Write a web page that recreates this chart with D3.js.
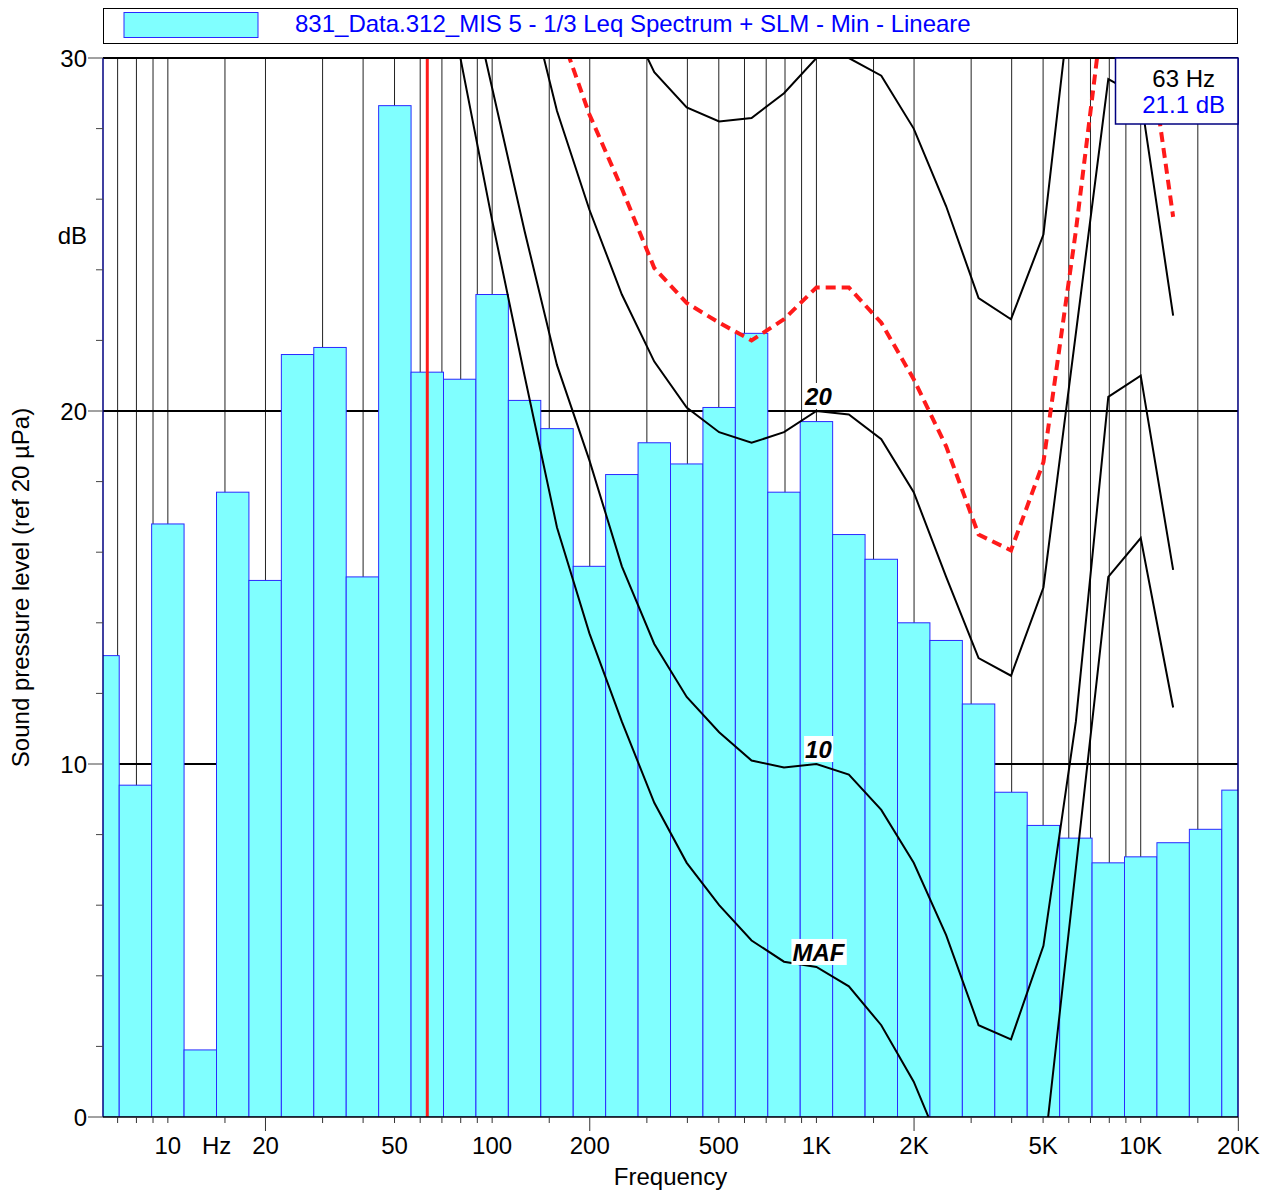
<!DOCTYPE html>
<html><head><meta charset="utf-8">
<script src="https://cdn.jsdelivr.net/npm/d3@7/dist/d3.min.js"></script>
<style>
body{margin:0;background:#fff}
svg{display:block}
text{font-family:"Liberation Sans",Arial,Helvetica,sans-serif}
</style>
</head><body>
<svg id="chart" width="1272" height="1193"></svg>
<script>
// ---------- DATA ----------
const legendLabel = "831_Data.312_MIS 5 - 1/3 Leq Spectrum + SLM - Min - Lineare";
const bandFreqs = [6.3, 8, 10, 12.5, 16, 20, 25, 31.5, 40, 50, 63, 80, 100, 125, 160, 200, 250, 315, 400, 500,
  630, 800, 1000, 1250, 1600, 2000, 2500, 3150, 4000, 5000, 6300, 8000, 10000, 12500, 16000, 20000];
const spectrumDb = [13.07, 9.4, 16.8, 1.9, 17.7, 15.2, 21.6, 21.8, 15.3, 28.65, 21.1, 20.9, 23.3, 20.3, 19.5, 15.6,
  18.2, 19.1, 18.5, 20.1, 22.2, 17.7, 19.7, 16.5, 15.8, 14.0, 13.5, 11.7, 9.2, 8.26, 7.9, 7.2, 7.37, 7.77, 8.15, 9.26];

const curveFreqs = [63, 80, 100, 125, 160, 200, 250, 315, 400, 500, 630, 800, 1000, 1250, 1600, 2000, 2500,
  3150, 4000, 5000, 6300, 8000, 10000, 12500];
const mafDb    = [null, 30.1, 25.4, 21.0, 16.7, 13.7, 11.2, 8.9, 7.2, 6.0, 5.0, 4.4, 4.25, 3.7, 2.6, 1.0, -1.2,
  -3.0, -3.0, -1.2, 7.05, 15.3, 16.4, 11.6];
const phon10Db = [null, 33.2, 29.15, 25.1, 21.3, 18.6, 15.6, 13.4, 11.9, 10.9, 10.1, 9.9, 10.0, 9.7, 8.7, 7.2, 5.15,
  2.6, 2.2, 4.85, 11.2, 20.4, 21.0, 15.5];
const phon20Db = [null, null, null, 32.2, 28.5, 25.7, 23.3, 21.4, 20.1, 19.4, 19.1, 19.4, 20.0, 19.9, 19.2, 17.7, 15.3,
  13.0, 12.5, 15.0, 22.2, 29.4, 28.9, 22.7];
const phon30Db = [null, null, null, null, null, null, 31.5, 29.6, 28.6, 28.2, 28.3, 29.0, 30.0, 30.0, 29.5, 28.0, 25.8,
  23.2, 22.6, 25.0, 33.0, null, null, null];
const redCurveDb = [null, null, null, null, 31.0, 28.4, 26.3, 24.05, 23.06, 22.5, 22.0, 22.6, 23.5, 23.5, 22.5, 20.9, 19.0,
  16.5, 16.05, 18.55, 25.1, 32.6, 32.0, 25.5];
const curveLabels = ["MAF", "10", "20"];
const curveLabelFreq = 1000;

const xTickValues = [10, Math.SQRT2 * 10, 20, 50, 100, 200, 500, 1000, 2000, 5000, 10000, 20000];
const xTickLabels = ["10", "Hz", "20", "50", "100", "200", "500", "1K", "2K", "5K", "10K", "20K"];
const gridMultipliers = [1, 1.5, 2, 3, 4, 5, 6, 7, 8, 9];
const gridDecades = [1, 10, 100, 1000, 10000];
const yTickValues = [0, 10, 20, 30];
const yTickLabels = ["0", "10", "20", "30"];
const cursorFreq = 63;
const cursorLabelFreq = "63 Hz";
const cursorLabelDb = "21.1 dB";

// ---------- LAYOUT ----------
const L = 103, R = 1238, T = 58, B = 1117;
const svg = d3.select("#chart");
const exact = f => Math.pow(10, Math.round(10 * Math.log10(f)) / 10);
const x = d3.scaleLog().domain([Math.pow(10, 0.8), Math.pow(10, 4.3)]).range([L, R]);
const y = d3.scaleLinear().domain([0, 30]).range([B, T]);
const half = Math.pow(10, 0.05);

svg.append("defs").append("clipPath").attr("id", "plotClip")
  .append("rect").attr("x", L).attr("y", T).attr("width", R - L).attr("height", B - T);

const plot = svg.append("g").attr("clip-path", "url(#plotClip)");

// vertical grid
const gridFreqs = [];
gridDecades.forEach(d => gridMultipliers.forEach(m => {
  const f = d * m;
  if (f >= x.domain()[0] && f <= 20000) gridFreqs.push(f);
}));
plot.selectAll("line.vg").data(gridFreqs).enter().append("line")
  .attr("x1", d => x(d)).attr("x2", d => x(d)).attr("y1", T).attr("y2", B)
  .attr("stroke", "#222").attr("stroke-width", 1);

// horizontal grid
plot.selectAll("line.hg").data([10, 20]).enter().append("line")
  .attr("x1", L).attr("x2", R).attr("y1", d => y(d)).attr("y2", d => y(d))
  .attr("stroke", "#000").attr("stroke-width", 2);

// bars
const bars = bandFreqs.map((f, i) => ({ f: exact(f), v: spectrumDb[i] }));
plot.selectAll("rect.bar").data(bars).enter().append("rect")
  .attr("x", d => x(d.f / half))
  .attr("width", d => x(d.f * half) - x(d.f / half))
  .attr("y", d => y(d.v))
  .attr("height", d => y(0) - y(d.v))
  .attr("fill", "#80ffff").attr("stroke", "#2a2aff").attr("stroke-width", 1);

// cursor
plot.append("line").attr("x1", x(exact(cursorFreq))).attr("x2", x(exact(cursorFreq)))
  .attr("y1", T).attr("y2", B).attr("stroke", "#ff1a1a").attr("stroke-width", 3);

// curves
const line = d3.line().defined(d => d.v !== null).x(d => x(d.f)).y(d => y(d.v));
const mk = arr => curveFreqs.map((f, i) => ({ f: exact(f), v: arr[i] }));
[mafDb, phon10Db, phon20Db, phon30Db].forEach(arr => {
  plot.append("path").datum(mk(arr)).attr("d", line)
    .attr("fill", "none").attr("stroke", "#000").attr("stroke-width", 2).attr("stroke-linejoin", "miter");
});
plot.append("path").datum(mk(redCurveDb)).attr("d", line)
  .attr("fill", "none").attr("stroke", "#ff1a1a").attr("stroke-width", 4).attr("stroke-dasharray", "10,6");

// curve labels
const labelCurves = [mafDb, phon10Db, phon20Db];
const li = curveFreqs.indexOf(curveLabelFreq);
labelCurves.forEach((arr, k) => {
  const cx = x(exact(curveLabelFreq)) + 2, cy = y(arr[li]) - 15;
  const g = svg.append("g");
  const t = g.append("text").attr("x", cx).attr("y", cy).attr("dy", "0.36em")
    .attr("text-anchor", "middle").attr("font-size", 24).attr("font-weight", "bold")
    .attr("font-style", "italic").attr("fill", "#000").text(curveLabels[k]);
  const bb = t.node().getBBox();
  g.insert("rect", "text").attr("x", bb.x - 1).attr("y", cy - 13).attr("width", bb.width + 2)
    .attr("height", 26).attr("fill", "#fff");
});

// frame
svg.append("line").attr("x1", L).attr("x2", R).attr("y1", T).attr("y2", T).attr("stroke", "#000").attr("stroke-width", 2);
svg.append("line").attr("x1", L).attr("x2", L).attr("y1", T).attr("y2", B).attr("stroke", "#000080").attr("stroke-width", 1.5);
svg.append("line").attr("x1", R).attr("x2", R).attr("y1", T).attr("y2", B).attr("stroke", "#000080").attr("stroke-width", 1.5);
svg.append("line").attr("x1", L).attr("x2", R).attr("y1", B).attr("y2", B).attr("stroke", "#000").attr("stroke-width", 1.5);

// x ticks
svg.selectAll("line.xt").data(gridFreqs).enter().append("line")
  .attr("x1", d => x(d)).attr("x2", d => x(d)).attr("y1", B)
  .attr("y2", d => B + ([20, 200, 2000, 20000].includes(d) ? 14 : 6))
  .attr("stroke", "#333").attr("stroke-width", 1);
svg.selectAll("text.xl").data(xTickValues).enter().append("text")
  .attr("x", d => x(d)).attr("y", 1154).attr("text-anchor", "middle")
  .attr("font-size", 24).attr("fill", "#000").text((d, i) => xTickLabels[i]);
svg.append("text").attr("x", (L + R) / 2).attr("y", 1185).attr("text-anchor", "middle")
  .attr("font-size", 24).text("Frequency");

// y ticks
svg.selectAll("line.ytm").data(d3.range(0, 31, 2)).enter().append("line")
  .attr("x1", d => yTickValues.includes(d) ? 88 : 96).attr("x2", L)
  .attr("y1", d => y(d)).attr("y2", d => y(d)).attr("stroke", "#444").attr("stroke-width", 1);
svg.selectAll("text.yl").data(yTickValues).enter().append("text")
  .attr("x", 87).attr("y", d => y(d)).attr("dy", "0.36em").attr("text-anchor", "end")
  .attr("font-size", 24).text((d, i) => yTickLabels[i]);
svg.append("text").attr("x", 87).attr("y", 244).attr("text-anchor", "end").attr("font-size", 24).text("dB");
svg.append("text").attr("transform", `translate(29,${(T + B) / 2}) rotate(-90)`)
  .attr("text-anchor", "middle").attr("font-size", 24).text("Sound pressure level (ref 20 µPa)");

// cursor box
svg.append("rect").attr("x", 1115.5).attr("y", T).attr("width", R - 1115.5).attr("height", 66)
  .attr("fill", "#fff").attr("stroke", "#000080").attr("stroke-width", 1.5);
svg.append("text").attr("x", 1215).attr("y", 87).attr("text-anchor", "end").attr("font-size", 24)
  .attr("fill", "#000").text(cursorLabelFreq);
svg.append("text").attr("x", 1225).attr("y", 113).attr("text-anchor", "end").attr("font-size", 24)
  .attr("fill", "#0000ff").text(cursorLabelDb);

// legend
svg.append("rect").attr("x", L + 0.5).attr("y", 8.5).attr("width", R - L - 1).attr("height", 35)
  .attr("fill", "#fff").attr("stroke", "#000").attr("stroke-width", 1);
svg.append("rect").attr("x", 124).attr("y", 12.5).attr("width", 134).attr("height", 25)
  .attr("fill", "#80ffff").attr("stroke", "#2a2aff").attr("stroke-width", 1);
svg.append("text").attr("x", 295).attr("y", 32).attr("font-size", 24).attr("fill", "#0000ff").text(legendLabel);
</script>
</body></html>
